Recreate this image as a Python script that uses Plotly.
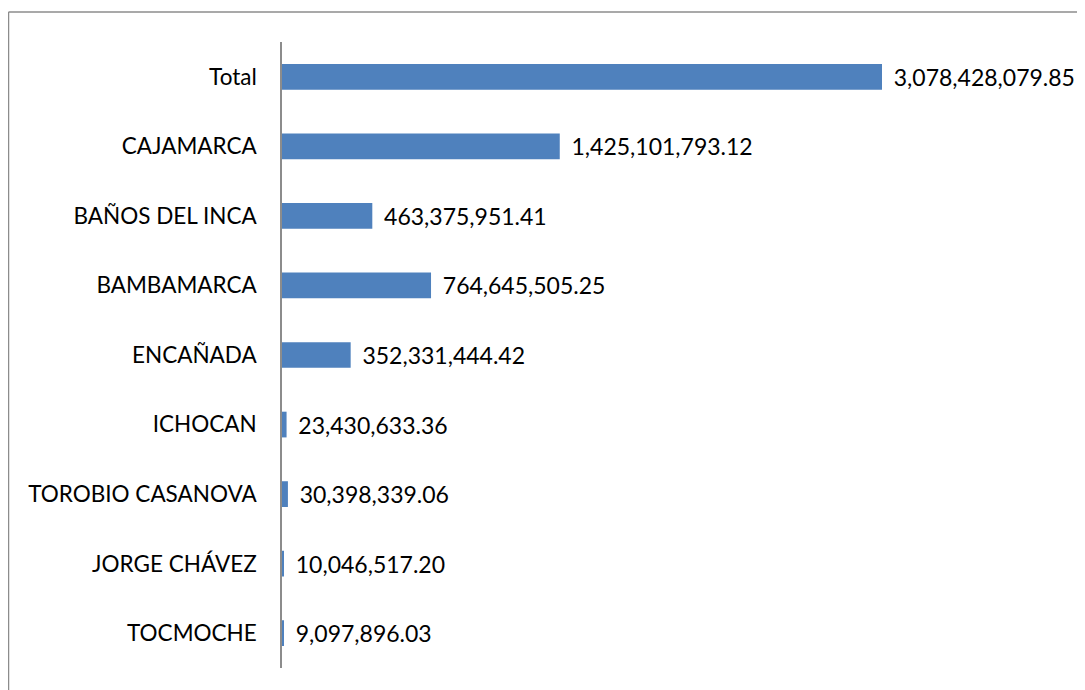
import plotly.graph_objects as go

distritos = ['Total', 'CAJAMARCA', 'BAÑOS DEL INCA', 'BAMBAMARCA', 'ENCAÑADA',
             'ICHOCAN', 'TOROBIO CASANOVA', 'JORGE CHÁVEZ', 'TOCMOCHE']
montos = [3078428079.85, 1425101793.12, 463375951.41, 764645505.25, 352331444.42,
          23430633.36, 30398339.06, 10046517.20, 9097896.03]
etiquetas = ['3,078,428,079.85', '1,425,101,793.12', '463,375,951.41', '764,645,505.25',
             '352,331,444.42', '23,430,633.36', '30,398,339.06', '10,046,517.20', '9,097,896.03']

# the page has an 8px body margin, so the figure starts at (8, 8)
W, H = 1077, 682
l, r, t, b = 274, 3, 34, 22
pw = W - l - r
ph = H - t - b
xmax = montos[0] * pw / 600.0

fig = go.Figure(go.Bar(
    x=montos, y=distritos, orientation='h',
    text=[' \u2009' + e for e in etiquetas], textposition='outside',
    constraintext='none',
    textfont=dict(family='Lato', size=23, color='black'),
    cliponaxis=False, width=0.37,
    marker=dict(color='#4F81BD', line=dict(width=0)),
))

def px(x):
    return (x - l) / pw

def py(y):
    return 1 - (y - t) / ph

fig.update_layout(
    width=W, height=H,
    margin=dict(l=l, r=r, t=t, b=b),
    paper_bgcolor='white', plot_bgcolor='white',
    showlegend=False,
    xaxis=dict(range=[0, xmax], visible=False, fixedrange=True),
    yaxis=dict(autorange='reversed', showline=True, linecolor='#8C8C8C', linewidth=1.5,
               showgrid=False, ticks='', ticklabelstandoff=19,
               tickfont=dict(family='Lato', size=22.5, color='black')),
    shapes=[
        dict(type='line', xref='paper', yref='paper', x0=px(0.5), x1=px(W + 5), y0=py(4), y1=py(4),
             line=dict(color='#8C8C8C', width=1.5)),
        dict(type='line', xref='paper', yref='paper', x0=px(0.5), x1=px(0.5), y0=py(4), y1=py(H + 5),
             line=dict(color='#8C8C8C', width=1.5)),
    ],
)

fig.write_html('out.html')
